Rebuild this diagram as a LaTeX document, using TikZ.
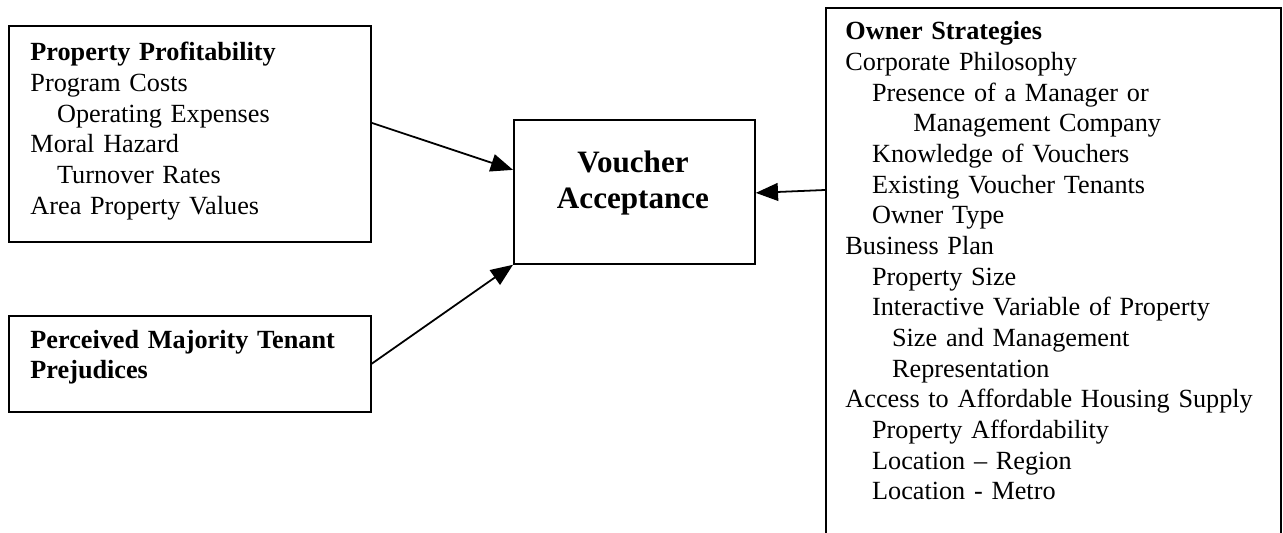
\documentclass[tikz,border=0pt]{standalone}
\usepackage{fontspec}
\setmainfont{Liberation Serif}
\usetikzlibrary{arrows.meta,positioning}

\begin{document}
\begin{tikzpicture}[
x=0.45pt, y=-0.45pt,
box/.style={draw, line width=0.8pt, inner sep=0pt, anchor=north west},
listtxt/.style={inner sep=0pt, anchor=base west, align=left, text width=200pt, font=\fontsize{11.8}{13.8}\selectfont},
>={Triangle[length=10pt, width=8pt]}
]
\path[use as bounding box, clip] (0,0) rectangle (1283,533);

% boxes
\node[box, minimum width=162.9pt, minimum height=97.2pt] (profit) at (8,25) {};
\node[box, minimum width=162.9pt, minimum height=43.2pt, below right=32.4pt and 0pt of profit.south west] (prejud) {};
\node[box, minimum width=108.45pt, minimum height=64.8pt] (accept) at (513,119) {};
\node[box, minimum width=204.75pt, minimum height=249pt] (owner) at (825,7) {};

% texts
\node[listtxt, text width=150pt] (profittxt) at (30,61) {\textbf{Property Profitability}\\
Program Costs\\
\hspace*{12pt}Operating Expenses\\
Moral Hazard\\
\hspace*{12pt}Turnover Rates\\
Area Property Values};
\node[listtxt, text width=150pt, font=\bfseries\fontsize{11.8}{13.1}\selectfont] (prejudtxt) at (30,349) {Perceived Majority Tenant\\Prejudices};
\node[inner sep=0pt, anchor=base, align=center, font=\bfseries\fontsize{14}{16.5}\selectfont] (accepttxt) at (633,209) {Voucher\\Acceptance};
\node[listtxt] (ownertxt) at (845,40) {\textbf{Owner Strategies}\\
Corporate Philosophy\\
\hspace*{12pt}Presence of a Manager or\\
\hspace*{30.6pt}Management Company\\
\hspace*{12pt}Knowledge of Vouchers\\
\hspace*{12pt}Existing Voucher Tenants\\
\hspace*{12pt}Owner Type\\
Business Plan\\
\hspace*{12pt}Property Size\\
\hspace*{12pt}Interactive Variable of Property\\
\hspace*{21pt}Size and Management\\
\hspace*{21pt}Representation\\
Access to Affordable Housing Supply\\
\hspace*{12pt}Property Affordability\\
\hspace*{12pt}Location -- Region\\
\hspace*{12pt}Location - Metro};

% arrows
\draw[->, line width=0.8pt] ([shift={(0,-11)}]profit.east) -- ([shift={(0,-22)}]accept.west);
\draw[->, line width=0.8pt] (prejud.east) -- (accept.south west);
\draw[->, line width=0.8pt] ([shift={(0,183)}]owner.north west) -- ([shift={(0,1)}]accept.east);
\end{tikzpicture}
\end{document}
